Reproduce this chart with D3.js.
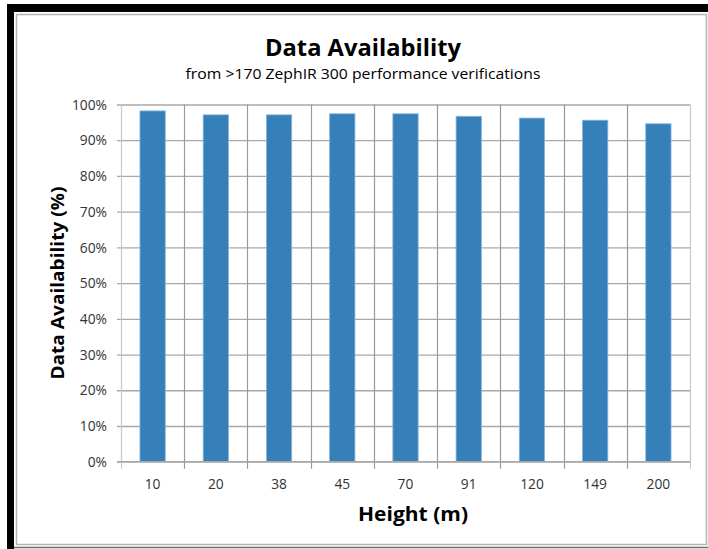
<!DOCTYPE html>
<html>
<head>
<meta charset="utf-8">
<script src="https://cdn.jsdelivr.net/npm/d3@7"></script>
<style>
  html, body { margin: 0; padding: 0; background: #fff; }
  svg { display: block; }
  text { font-family: "Open Sans", "DejaVu Sans", sans-serif; }
</style>
</head>
<body>
<svg id="chart" width="708" height="549"></svg>
<script>
// Heights (m) of the measurement levels
const heights = ["10", "20", "38", "45", "70", "91", "120", "149", "200"];
// Data availability at each height (%)
const availability = [98.2, 97.1, 97.1, 97.4, 97.4, 96.7, 96.2, 95.6, 94.6];
// Y axis tick values (%)
const yTicks = [0, 10, 20, 30, 40, 50, 60, 70, 80, 90, 100];

const titleText = "Data Availability";
const subtitleText = "from >170 ZephIR 300 performance verifications";
const xTitle = "Height (m)";
const yTitle = "Data Availability (%)";

const W = 708, H = 549;
const plot = { left: 121, right: 690, top: 104.5, bottom: 461.7 };

const svg = d3.select("#chart");

// Frame: dark shadow band on top/left, grey panel border
svg.append("rect").attr("x", 0).attr("y", 0).attr("width", W).attr("height", H).attr("fill", "#fff");
svg.append("rect").attr("x", 7).attr("y", 4).attr("width", W - 7).attr("height", 8).attr("fill", "#000");
svg.append("rect").attr("x", 7).attr("y", 4).attr("width", 7).attr("height", H - 4).attr("fill", "#000");
svg.append("rect").attr("x", 16.5).attr("y", 14.5).attr("width", 690).attr("height", 530)
  .attr("fill", "#fff").attr("stroke", "#b4b4b4").attr("stroke-width", 1.5);
svg.append("line").attr("x1", 14).attr("x2", W).attr("y1", 547.5).attr("y2", 547.5)
  .attr("stroke", "#6a6a6a").attr("stroke-width", 1.5);

const x = d3.scaleBand().domain(heights).range([plot.left, plot.right]).paddingInner(0).paddingOuter(0);
const y = d3.scaleLinear().domain([0, 100]).range([plot.bottom, plot.top]);

// Squeeze a text element horizontally so it reads narrow, like a condensed face
function squeeze(sel, ratio) {
  sel.each(function () {
    const w = this.getComputedTextLength();
    d3.select(this).attr("textLength", w * ratio).attr("lengthAdjust", "spacingAndGlyphs");
  });
}

// Horizontal gridlines with outward ticks on the left
const yAxis = d3.axisLeft(y).tickValues(yTicks).tickFormat(d => d + "%")
  .tickSize(-(plot.right - plot.left)).tickSizeOuter(0).tickPadding(10);
const gy = svg.append("g").attr("transform", `translate(${plot.left},0)`).call(yAxis);
gy.select(".domain").remove();
gy.selectAll(".tick line").attr("stroke", "#a8a8a8").attr("stroke-width", 1.3)
  .attr("x1", -4);
gy.selectAll(".tick text").attr("fill", "#333").attr("font-size", 14.5)
  .attr("font-family", "'Open Sans', sans-serif").attr("x", -14);
squeeze(gy.selectAll(".tick text"), 0.95);

// Vertical gridlines at category boundaries, extending below the baseline
const bounds = heights.map(h => x(h)).concat([plot.right]);
svg.append("g").selectAll("line").data(bounds).join("line")
  .attr("x1", d => Math.round(d) + 0.5).attr("x2", d => Math.round(d) + 0.5)
  .attr("y1", plot.top).attr("y2", plot.bottom + 7)
  .attr("stroke", (d, i) => (i === 0 || i === bounds.length - 1) ? "#c8c8c8" : "#9a9a9a")
  .attr("stroke-width", 1.2);

// Bars
const barW = x.bandwidth() * 0.4;
svg.append("g").selectAll("rect").data(availability).join("rect")
  .attr("x", (d, i) => x(heights[i]) + (x.bandwidth() - barW) / 2)
  .attr("width", barW)
  .attr("y", d => y(d))
  .attr("height", d => y(0) - y(d))
  .attr("fill", "#3680ba")
  .attr("stroke", "#86b3dc").attr("stroke-width", 0.8);

// Baseline
svg.append("line").attr("x1", plot.left - 4).attr("x2", plot.right)
  .attr("y1", plot.bottom).attr("y2", plot.bottom)
  .attr("stroke", "#a8a8a8").attr("stroke-width", 1.3);

// Category labels
const xAxis = d3.axisBottom(x).tickSize(0).tickPadding(0);
const gx = svg.append("g").attr("transform", `translate(0,${plot.bottom})`).call(xAxis);
gx.select(".domain").remove();
gx.selectAll(".tick text").attr("fill", "#333").attr("font-size", 14.5)
  .attr("font-family", "'Open Sans', sans-serif").attr("dy", 0).attr("y", 27);
squeeze(gx.selectAll(".tick text"), 0.95);

// Titles, set to fixed widths
function label(xp, yp, txt, size, bold, width) {
  const t = svg.append("text").attr("x", xp).attr("y", yp).attr("text-anchor", "middle")
    .attr("font-weight", bold ? "bold" : "normal").attr("font-size", size)
    .attr("fill", "#000").text(txt)
    .attr("textLength", width).attr("lengthAdjust", "spacingAndGlyphs");
  return t;
}

label(363, 56, titleText, 24, true, 196);
label(363, 79, subtitleText, 14.5, false, 355);
label(413, 521, xTitle, 19, true, 110);
label(0, 0, yTitle, 18.5, true, 193)
  .attr("transform", `translate(64,${(plot.top + plot.bottom) / 2}) rotate(-90)`);
</script>
</body>
</html>
